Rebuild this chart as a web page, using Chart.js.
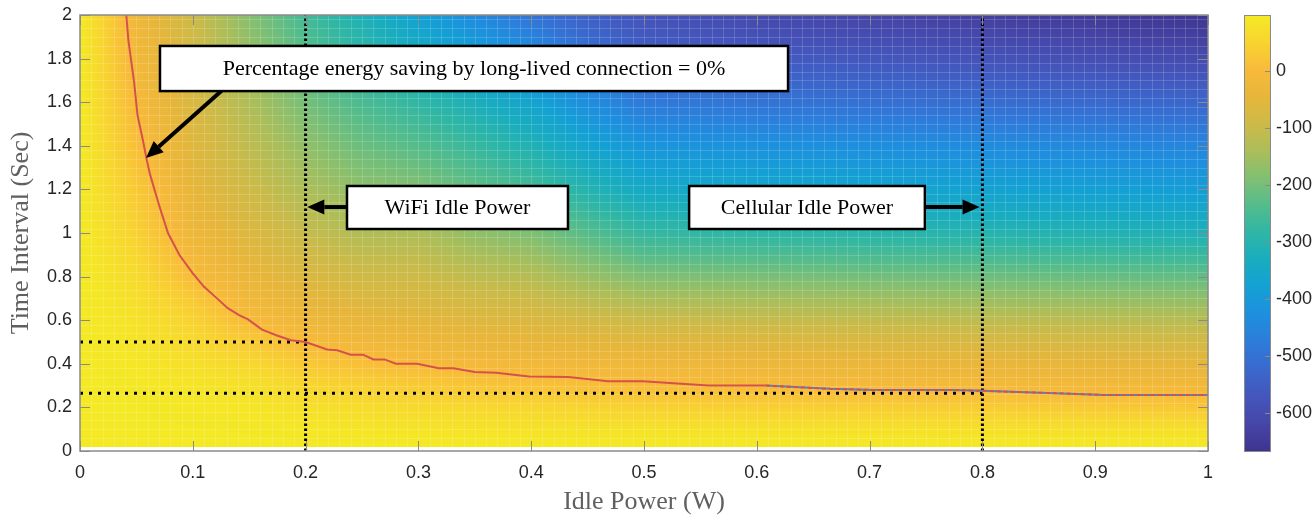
<!DOCTYPE html>
<html>
<head>
<meta charset="utf-8">
<script src="https://cdn.jsdelivr.net/npm/chart.js@4.4.1/dist/chart.umd.min.js"></script>
<style>
html, body { margin: 0; padding: 0; background: #fff; }
</style>
</head>
<body>
<canvas id="energyChart" width="1316" height="518"></canvas>
<script>
// Grade do mapa (potência ociosa W x intervalo s)
var gridX = [0, 0.05, 0.1, 0.15, 0.2, 0.25, 0.3, 0.35, 0.4, 0.45, 0.5, 0.6, 0.7, 0.8, 0.9, 1.0];
var gridY = [0.02, 0.1, 0.2, 0.3, 0.4, 0.5, 0.6, 0.7, 0.8, 0.9, 1.0, 1.1, 1.2, 1.3, 1.4, 1.5, 1.6, 1.7, 1.8, 1.9, 2.0];

// Economia (%) lida em cada coluna, de baixo para cima
var col000 = [97, 97, 97, 97, 97, 97, 97, 97, 97, 97, 97, 97, 97, 97, 97, 97, 97, 97, 97, 96, 96];
var col005 = [97, 96, 95, 93, 90, 85, 80, 73, 65, 57, 46, 38, 30, 21, 12, 4, -3, -9, -14, -18, -22];
var col010 = [97, 95, 92, 85, 75, 62, 48, 30, 4, -12, -25, -35, -44, -52, -59, -65, -71, -77, -82, -87, -92];
var col015 = [97, 94, 88, 77, 58, 32, 0, -20, -38, -52, -65, -78, -90, -102, -113, -124, -135, -146, -158, -170, -182];
var col020 = [97, 90, 75, 55, 30, 0, -25, -47, -67, -86, -103, -120, -137, -153, -169, -185, -200, -215, -229, -243, -257];
var col025 = [97, 86, 68, 42, 12, -18, -42, -65, -88, -110, -132, -153, -173, -192, -211, -229, -247, -264, -281, -297, -316];
var col030 = [97, 84, 62, 32, 0, -25, -50, -72, -92, -112, -135, -160, -185, -210, -235, -258, -281, -304, -328, -352, -376];
var col035 = [96, 82, 58, 22, -10, -35, -60, -85, -112, -140, -170, -196, -221, -246, -271, -296, -322, -348, -376, -406, -440];
var col040 = [96, 81, 55, 16, -15, -42, -68, -95, -125, -158, -190, -222, -252, -282, -310, -338, -366, -395, -425, -458, -495];
var col045 = [96, 80, 50, 10, -18, -48, -82, -120, -160, -198, -235, -270, -302, -332, -365, -398, -430, -462, -495, -522, -545];
var col050 = [95, 80, 45, 5, -22, -55, -95, -140, -188, -235, -275, -312, -345, -377, -410, -445, -480, -512, -542, -562, -580];
var col060 = [95, 79, 42, 0, -28, -62, -102, -147, -195, -242, -285, -322, -356, -388, -420, -458, -494, -528, -558, -585, -608];
var col070 = [95, 78, 38, -6, -34, -68, -108, -153, -202, -250, -293, -330, -364, -396, -428, -466, -502, -537, -568, -597, -622];
var col080 = [95, 77, 35, -8, -38, -74, -114, -160, -208, -256, -300, -338, -372, -404, -436, -474, -511, -547, -580, -610, -637];
var col090 = [95, 76, 29, -12, -42, -78, -119, -166, -215, -263, -308, -346, -380, -412, -444, -482, -520, -557, -592, -623, -650];
var col100 = [95, 75, 26, -14, -45, -82, -124, -171, -221, -270, -315, -354, -388, -420, -452, -490, -528, -566, -602, -635, -662];
var gridCols = [col000, col005, col010, col015, col020, col025, col030, col035, col040, col045, col050, col060, col070, col080, col090, col100];

// Curva de economia = 0%
var curveX = [0.041, 0.043, 0.048, 0.051, 0.056, 0.059, 0.062, 0.070, 0.078, 0.088, 0.100, 0.110, 0.120, 0.131, 0.141, 0.149, 0.161, 0.174, 0.187, 0.200,
              0.219, 0.228, 0.240, 0.251, 0.260, 0.270, 0.280, 0.299, 0.318, 0.331, 0.350, 0.369, 0.398, 0.433, 0.468, 0.499, 0.557, 0.608, 0.665, 0.704,
              0.774, 0.800, 0.883, 0.908, 1.000];
var curveY = [2.00, 1.88, 1.69, 1.54, 1.42, 1.34, 1.27, 1.13, 1.00, 0.90, 0.815, 0.753, 0.707, 0.655, 0.623, 0.604, 0.558, 0.531, 0.508, 0.500,
              0.466, 0.462, 0.442, 0.442, 0.420, 0.420, 0.400, 0.400, 0.380, 0.380, 0.362, 0.359, 0.342, 0.339, 0.320, 0.320, 0.300, 0.300, 0.285, 0.280,
              0.280, 0.276, 0.262, 0.257, 0.257];

// Linhas de referência
var idlePowers = [0.2, 0.8];        // WiFi, celular
var crossIntervals = [0.5, 0.265];  // intervalos onde cruzam a curva
var annotationTexts = ['Percentage energy saving by long-lived connection = 0%', 'WiFi Idle Power', 'Cellular Idle Power'];

// Barra de cores
var cbMin = -666, cbMax = 98;
var cmapVals = [98, 50, 2, -46, -93, -141, -189, -236, -284, -332, -380, -427, -475, -523, -571, -618, -666];
var cmapCols = [[244, 234, 36], [248, 212, 48], [248, 186, 58], [230, 182, 58], [205, 186, 72], [170, 190, 90], [128, 191, 115], [84, 188, 140],
                [46, 182, 166], [24, 172, 192], [20, 160, 212], [30, 143, 222], [45, 124, 218], [58, 104, 205], [68, 86, 188], [70, 70, 168], [62, 52, 142]];

function colorFor(v) {
    if (v >= cmapVals[0]) return cmapCols[0];
    for (var i = 0; i < cmapVals.length - 1; i++) {
        if (v >= cmapVals[i + 1]) {
            var f = (cmapVals[i] - v) / (cmapVals[i] - cmapVals[i + 1]);
            var a = cmapCols[i], b = cmapCols[i + 1];
            return [a[0] + (b[0] - a[0]) * f, a[1] + (b[1] - a[1]) * f, a[2] + (b[2] - a[2]) * f];
        }
    }
    return cmapCols[cmapCols.length - 1];
}

function findCell(arr, v) {
    if (v <= arr[0]) return [0, 0];
    for (var i = 0; i < arr.length - 1; i++) {
        if (v <= arr[i + 1]) return [i, (v - arr[i]) / (arr[i + 1] - arr[i])];
    }
    return [arr.length - 2, 1];
}

var curveData = curveX.map(function (x, i) { return { x: x, y: curveY[i] }; });
var blueData = curveData.filter(function (p) { return p.x >= 0.6; });

var fontSans = '"Liberation Sans", Arial, Helvetica, sans-serif';
var fontSerif = '"Liberation Serif", "Times New Roman", serif';

function shortLabel(v) { return String(Math.round(v * 10) / 10); }
function noPad(s) { s.paddingTop = 0; s.paddingBottom = 0; s.paddingLeft = 0; s.paddingRight = 0; }

// Mapa de calor desenhado por baixo das linhas
var heatmapPlugin = {
    id: 'heatmap',
    beforeDatasetsDraw: function (chart) {
        var ctx = chart.ctx, a = chart.chartArea, sx = chart.scales.x, sy = chart.scales.y;
        var w = Math.round(a.right - a.left), h = Math.round(a.bottom - a.top);
        var img = ctx.createImageData(w, h);
        var colCells = [];
        for (var px = 0; px < w; px++) colCells.push(findCell(gridX, sx.getValueForPixel(a.left + px + 0.5)));
        for (var py = 0; py < h; py++) {
            var yv = sy.getValueForPixel(a.top + py + 0.5);
            if (yv < gridY[0]) continue;
            var rc = findCell(gridY, yv), j = rc[0], fy = rc[1];
            for (px = 0; px < w; px++) {
                var cc = colCells[px], i = cc[0], fx = cc[1];
                var v00 = gridCols[i][j], v10 = gridCols[i + 1][j], v01 = gridCols[i][j + 1], v11 = gridCols[i + 1][j + 1];
                var v = (v00 * (1 - fx) + v10 * fx) * (1 - fy) + (v01 * (1 - fx) + v11 * fx) * fy;
                var c = colorFor(v), k = (py * w + px) * 4;
                img.data[k] = c[0]; img.data[k + 1] = c[1]; img.data[k + 2] = c[2]; img.data[k + 3] = 255;
            }
        }
        var off = document.createElement('canvas');
        off.width = w; off.height = h;
        off.getContext('2d').putImageData(img, 0, 0);
        ctx.drawImage(off, a.left, a.top);

        // malha clara da superfície
        ctx.save();
        ctx.strokeStyle = 'rgba(255,255,255,0.16)';
        ctx.lineWidth = 1;
        ctx.beginPath();
        for (var m = 1; m < 100; m++) {
            var gx = Math.round(sx.getPixelForValue(m / 100)) + 0.5;
            ctx.moveTo(gx, a.top); ctx.lineTo(gx, sy.getPixelForValue(gridY[0]));
        }
        for (var n = 0; n < 50; n++) {
            var gy = Math.round(sy.getPixelForValue(gridY[0] + n * 0.04)) + 0.5;
            ctx.moveTo(a.left, gy); ctx.lineTo(a.right, gy);
        }
        ctx.stroke();
        ctx.restore();
    },
    afterDatasetsDraw: function (chart) {
        var ctx = chart.ctx, a = chart.chartArea, sx = chart.scales.x, sy = chart.scales.y;
        ctx.save();
        // moldura e marcas internas
        ctx.strokeStyle = '#8a8a8a';
        ctx.lineWidth = 1;
        ctx.beginPath();
        sx.ticks.forEach(function (t) {
            var p = Math.round(sx.getPixelForValue(t.value)) + 0.5;
            ctx.moveTo(p, a.bottom); ctx.lineTo(p, a.bottom - 10);
            ctx.moveTo(p, a.top); ctx.lineTo(p, a.top + 10);
        });
        sy.ticks.forEach(function (t) {
            var p = Math.round(sy.getPixelForValue(t.value)) + 0.5;
            ctx.moveTo(a.left, p); ctx.lineTo(a.left + 10, p);
            ctx.moveTo(a.right, p); ctx.lineTo(a.right - 10, p);
        });
        ctx.stroke();
        ctx.lineWidth = 1.5;
        ctx.strokeRect(a.left, a.top, a.right - a.left, a.bottom - a.top);

        // caixas de anotação com setas
        function px(v) { return sx.getPixelForValue(v); }
        function py(v) { return sy.getPixelForValue(v); }
        function arrow(x0, y0, x1, y1) {
            var ang = Math.atan2(y1 - y0, x1 - x0), L = 17, W = 7.5;
            var bx = x1 - L * Math.cos(ang), by = y1 - L * Math.sin(ang);
            ctx.strokeStyle = '#000'; ctx.lineWidth = 4;
            ctx.beginPath(); ctx.moveTo(x0, y0); ctx.lineTo(bx, by); ctx.stroke();
            ctx.fillStyle = '#000';
            ctx.beginPath();
            ctx.moveTo(x1, y1);
            ctx.lineTo(bx + W * Math.sin(ang), by - W * Math.cos(ang));
            ctx.lineTo(bx - W * Math.sin(ang), by + W * Math.cos(ang));
            ctx.closePath(); ctx.fill();
        }
        function box(x0, y0, x1, y1, text) {
            var l = px(x0), r = px(x1), t = py(y0), b = py(y1);
            ctx.fillStyle = '#fff';
            ctx.fillRect(l, t, r - l, b - t);
            ctx.strokeStyle = '#000'; ctx.lineWidth = 2.5;
            ctx.strokeRect(l, t, r - l, b - t);
            ctx.fillStyle = '#000';
            ctx.font = '22px ' + fontSerif;
            ctx.textAlign = 'center'; ctx.textBaseline = 'middle';
            ctx.fillText(text, (l + r) / 2, (t + b) / 2 + 1);
        }
        arrow(px(0.126), py(1.655), px(0.0585), py(1.344));
        box(0.0709, 1.858, 0.6277, 1.651, annotationTexts[0]);
        arrow(px(0.2367), py(1.119), px(0.2015), py(1.119));
        box(0.2367, 1.2156, 0.4326, 1.0183, annotationTexts[1]);
        arrow(px(0.749), py(1.119), px(0.7975), py(1.119));
        box(0.540, 1.2156, 0.749, 1.0183, annotationTexts[2]);

        // barra de cores
        var cb = chart.scales.cb, bl = cb.left + 36, br = cb.left + 62;
        for (var yy = Math.floor(cb.top); yy < cb.bottom; yy++) {
            var c = colorFor(cb.getValueForPixel(yy + 0.5));
            ctx.fillStyle = 'rgb(' + Math.round(c[0]) + ',' + Math.round(c[1]) + ',' + Math.round(c[2]) + ')';
            ctx.fillRect(bl, yy, br - bl, 1);
        }
        ctx.strokeStyle = '#8a8a8a'; ctx.lineWidth = 1;
        ctx.strokeRect(bl + 0.5, cb.top + 0.5, br - bl, cb.bottom - cb.top);
        ctx.beginPath();
        cb.ticks.forEach(function (t) {
            var p = Math.round(cb.getPixelForValue(t.value)) + 0.5;
            ctx.moveTo(br, p); ctx.lineTo(br - 5, p);
        });
        ctx.stroke();
        ctx.restore();
    }
};

var ctx = document.getElementById('energyChart').getContext('2d');

var energyChart = new Chart(ctx, {
    type: 'line',
    data: {
        datasets: [
            {
                data: curveData,
                borderColor: '#d4524a',
                borderWidth: 2,
                pointRadius: 0,
                tension: 0,
                order: 1,
                segment: {
                    borderDash: function (c) { return c.p0.parsed.x >= 0.6 ? [4, 3] : undefined; }
                }
            },
            {
                data: blueData,
                borderColor: '#5a80bf',
                borderWidth: 2,
                pointRadius: 0,
                tension: 0,
                order: 2
            },
            {
                data: [{ x: idlePowers[0], y: 0 }, { x: idlePowers[0], y: 2 }],
                borderColor: '#000', borderWidth: 3, borderDash: [2.5, 2.5], pointRadius: 0, order: 3
            },
            {
                data: [{ x: idlePowers[1], y: 0 }, { x: idlePowers[1], y: 2 }],
                borderColor: '#000', borderWidth: 3, borderDash: [2.5, 2.5], pointRadius: 0, order: 3
            },
            {
                data: [{ x: 0, y: crossIntervals[0] }, { x: idlePowers[0], y: crossIntervals[0] }],
                borderColor: '#000', borderWidth: 3, borderDash: [3, 6], pointRadius: 0, order: 3
            },
            {
                data: [{ x: 0, y: crossIntervals[1] }, { x: idlePowers[1], y: crossIntervals[1] }],
                borderColor: '#000', borderWidth: 3, borderDash: [3, 6], pointRadius: 0, order: 3
            }
        ]
    },
    options: {
        responsive: false,
        animation: false,
        layout: { padding: { top: 15, left: 0, right: 0, bottom: 0 } },
        plugins: { legend: { display: false }, tooltip: { enabled: false } },
        scales: {
            x: {
                type: 'linear', min: 0, max: 1,
                grid: { display: false, drawTicks: false },
                border: { display: false },
                ticks: { stepSize: 0.1, padding: 11, color: '#262626', maxRotation: 0, autoSkip: false, callback: shortLabel, font: { family: fontSans, size: 18 } },
                title: { display: true, text: 'Idle Power (W)', color: '#606060', padding: { top: 0, bottom: 0 }, font: { family: fontSerif, size: 26 } },
                afterFit: function (s) { s.height = 67; noPad(s); }
            },
            y: {
                type: 'linear', min: 0, max: 2,
                grid: { display: false, drawTicks: false },
                border: { display: false },
                ticks: { stepSize: 0.2, padding: 8, color: '#262626', callback: shortLabel, font: { family: fontSans, size: 18 } },
                title: { display: true, text: 'Time Interval (Sec)', color: '#606060', padding: { top: 6, bottom: 0 }, font: { family: fontSerif, size: 26 } },
                afterFit: function (s) { s.width = 80; noPad(s); }
            },
            cb: {
                type: 'linear', position: 'right', min: cbMin, max: cbMax,
                grid: { display: false, drawTicks: false },
                border: { display: false },
                ticks: { stepSize: 100, includeBounds: false, padding: 68, color: '#262626', font: { family: fontSans, size: 18 } },
                afterFit: function (s) { s.width = 108; noPad(s); }
            }
        }
    },
    plugins: [heatmapPlugin]
});
</script>
</body>
</html>
